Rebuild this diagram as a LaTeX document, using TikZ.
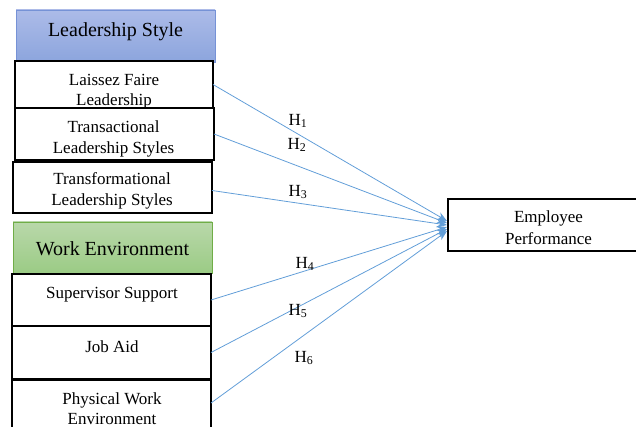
\documentclass[tikz,border=0pt]{standalone}
\usepackage{fontspec}
\setmainfont{Liberation Serif}
\usetikzlibrary{arrows.meta,calc}
\definecolor{linkblue}{RGB}{98,158,216}
\definecolor{hdrblueT}{RGB}{172,187,232}
\definecolor{hdrblueB}{RGB}{140,165,221}
\definecolor{hdrblueD}{RGB}{118,146,214}
\definecolor{hdrgreenT}{RGB}{185,216,170}
\definecolor{hdrgreenB}{RGB}{155,203,133}
\definecolor{hdrgreenD}{RGB}{112,173,71}
\tikzset{
  boxfill/.style={rectangle, fill=white, inner sep=0pt, outer sep=0pt},
  boxline/.style={draw=black, line width=1.6pt},
  hdrblue/.style={rectangle, inner sep=0pt, outer sep=0pt, draw=hdrblueD, line width=0.8pt, top color=hdrblueT, bottom color=hdrblueB},
  hdrgreen/.style={rectangle, inner sep=0pt, outer sep=0pt, draw=hdrgreenD, line width=0.8pt, top color=hdrgreenT, bottom color=hdrgreenB},
  txt/.style={anchor=base, inner sep=0pt, font=\fontsize{17}{20}\selectfont},
  hdrtxt/.style={anchor=base, inner sep=0pt, font=\fontsize{20}{24}\selectfont},
  hlab/.style={inner sep=0pt, font=\fontsize{17}{20}\selectfont},
  link/.style={draw=linkblue, line width=0.8pt, -{Stealth[length=10pt,width=8pt]}}
}
\newcommand{\mkbox}[6]{% name, style, x1, y1, x2, y2
  \node[#2, minimum width={(#5-#3)*1pt}, minimum height={(#6-#4)*1pt}, anchor=north west] (#1) at (#3,#4) {};}
\begin{document}
\begin{tikzpicture}[x=1pt,y=-1pt]
\useasboundingbox (0,0) rectangle (636,427);
\begin{scope}
\clip (0,0) rectangle (636,427);
% headers
\mkbox{ls}{hdrblue}{16}{10}{215}{62}
\node[hdrtxt] (lsT) at (115.5,37) {Leadership Style};
\mkbox{we}{hdrgreen}{13}{222}{212}{273}
\node[hdrtxt] (weT) at (112.5,255) {Work Environment};
% white boxes
\mkbox{lf}{boxfill}{15}{61}{213}{108}
\mkbox{ta}{boxfill}{15}{108}{214}{160}
\mkbox{tf}{boxfill}{13}{162}{212}{213}
\mkbox{ss}{boxfill}{12}{274}{211}{326}
\mkbox{ja}{boxfill}{12}{326}{211}{379}
\mkbox{pw}{boxfill}{12}{380}{211}{428}
\mkbox{ep}{boxfill}{448}{199}{650}{251}
% clipped texts
\begin{scope}\clip (lf.north west) rectangle (lf.south east);
\node[txt] (lf1) at (114,86) {Laissez Faire};
\node[txt] (lf2) at (114,106) {Leadership};
\end{scope}
\begin{scope}\clip (ta.north west) rectangle (ta.south east);
\node[txt] (ta1) at (113.5,133) {Transactional};
\node[txt] (ta2) at (113.5,154) {Leadership Styles};
\end{scope}
\begin{scope}\clip (tf.north west) rectangle (tf.south east);
\node[txt] (tf1) at (112,185) {Transformational};
\node[txt] (tf2) at (112,206) {Leadership Styles};
\end{scope}
\begin{scope}\clip (ss.north west) rectangle (ss.south east);
\node[txt] (ss1) at (112,298) {Supervisor Support};
\end{scope}
\begin{scope}\clip (ja.north west) rectangle (ja.south east);
\node[txt] (ja1) at (112,352) {Job Aid};
\end{scope}
\begin{scope}\clip (pw.north west) rectangle (pw.south east);
\node[txt] (pw1) at (112,404) {Physical Work};
\node[txt] (pw2) at (112,424) {Environment};
\end{scope}
\begin{scope}\clip (ep.north west) rectangle (ep.south east);
\node[txt] (ep1) at (548.5,223) {Employee};
\node[txt] (ep2) at (548.5,245) {Performance};
\end{scope}
% borders
\foreach \b in {lf,ta,tf,ss,ja,pw,ep}
  \draw[boxline] (\b.north west) rectangle (\b.south east);
% links
\draw[link] (lf.east) -- ($(ep.west)+(-1,-4)$);
\draw[link] (ta.east) -- ($(ep.west)+(-1,-2)$);
\draw[link] ($(tf.east)+(0,3)$) -- ($(ep.west)+(-1,0)$);
\draw[link] (ss.east) -- ($(ep.west)+(-1,2)$);
\draw[link] (ja.east) -- ($(ep.west)+(-1,4)$);
\draw[link] ($(pw.east)+(0,-1)$) -- ($(ep.west)+(-1,6)$);
% labels
\node[hlab] (h1) at (298,121) {H\textsubscript{1}};
\node[hlab] (h2) at (297,145) {H\textsubscript{2}};
\node[hlab] (h3) at (298,192) {H\textsubscript{3}};
\node[hlab] (h4) at (305,264) {H\textsubscript{4}};
\node[hlab] (h5) at (298,311) {H\textsubscript{5}};
\node[hlab] (h6) at (304,358) {H\textsubscript{6}};
\end{scope}
\end{tikzpicture}
\end{document}
